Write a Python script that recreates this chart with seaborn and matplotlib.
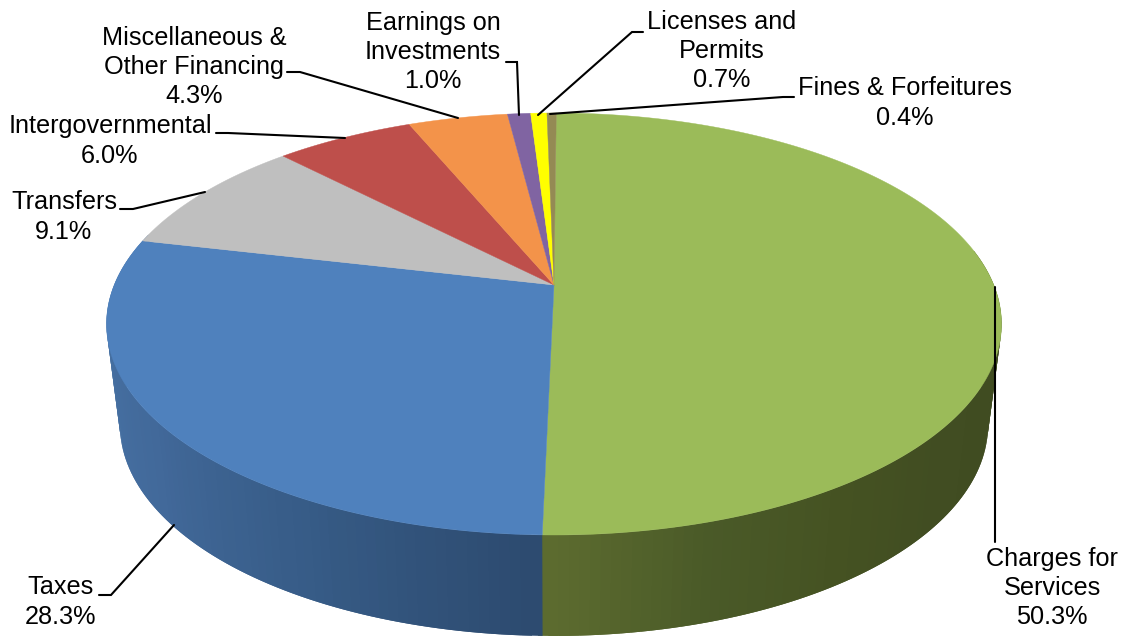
# -*- coding: UTF-8 -*-
import matplotlib
matplotlib.use('Agg')
import matplotlib.pyplot as plt
import numpy as np
import seaborn as sns

names = ['Charges for\nServices', 'Taxes', 'Transfers', 'Intergovernmental',
         'Miscellaneous &\nOther Financing', 'Earnings on\nInvestments',
         'Licenses and\nPermits', 'Fines & Forfeitures']
shares = [50.3, 28.3, 9.1, 6.0, 4.3, 1.0, 0.7, 0.4]
top_colors = ['#9bbb59', '#4f81bd', '#bfbfbf', '#be4f4b', '#f3934a', '#8064a2', '#ffff00', '#948a54']

sns.set_theme(style='white')
plt.rcParams['font.family'] = ['Liberation Sans', 'DejaVu Sans']

fig, ax = plt.subplots(figsize=(11.25, 6.37), dpi=100)
ax.set_position([0, 0, 1, 1])
ax.set_xlim(0, 1125)
ax.set_ylim(637, 0)
ax.axis('off')


# circle -> picture, the tilt moves the centre of the pie above the centre of the ellipse
def project(theta, r=1.0, cy=285.0, scale=1.0):
    u = r * np.sin(theta)
    v = r * np.cos(theta)
    w = 1 + 0.1848 * v
    return 554 + scale * 439.8 * u / w, cy - 203.8 * v / w


edges = np.r_[0, np.cumsum(shares)] / np.sum(shares) * 2 * np.pi + np.radians(0.35)


# side wall first, the top face covers what should be hidden
def wall(start, end, shade, backwards=False):
    steps = len(shade)
    t = np.linspace(start, end, steps + 1)
    order = range(steps - 1, -1, -1) if backwards else range(steps)
    for i in order:
        # every strip runs on under the next one so no seams show
        if backwards:
            tt = np.array([t[i], t[min(i + 2, steps)]])
        else:
            tt = np.array([t[max(i - 1, 0)], t[i + 1]])
        x1, y1 = project(tt)
        x2, y2 = project(tt[::-1], cy=386.0, scale=0.97)
        ax.fill(np.r_[x1, x2], np.r_[y1, y2], color=shade[i], lw=0, zorder=1)


# green runs a little past its edge, blue goes over it
wall(np.radians(80), edges[1] + np.radians(0.5),
     sns.blend_palette(['#3f4b21', '#3f4b21', '#404c21', '#414d22', '#455222', '#4a5a28', '#5c6b2f'], 90))
wall(edges[1], np.radians(285),
     sns.blend_palette(['#2d4b70', '#375c87', '#42699a', '#4671a3', '#4a76a9'], 90), backwards=True)

for i in range(len(shares)):
    t = np.linspace(edges[i], edges[i + 1], max(int(shares[i] * 8), 6))
    x, y = project(t)
    cx, cy = project(0.0, r=0.0)
    ax.fill(np.r_[cx, x], np.r_[cy, y], color=top_colors[i], lw=0.3, zorder=2)

# leader lines
leaders = [
    ([995, 995], [287, 542]),
    ([99, 111, 174], [595, 595, 525]),
    ([120, 133, 205], [209, 209, 192]),
    ([216, 228, 345], [133, 133, 138]),
    ([287, 300, 458], [72, 72, 118]),
    ([506, 517, 519], [62, 62, 115]),
    ([643, 632, 538], [32, 32, 115]),
    ([794, 783, 550], [97, 97, 114]),
]
for lx, ly in leaders:
    ax.plot(lx, ly, color='black', lw=1.5, zorder=3, solid_joinstyle='miter')

label_pos = [(1052, 588), (61, 602), (64, 217), (110, 141), (194, 67), (433, 52), (722, 51), (905, 103)]
for i in range(len(names)):
    ax.text(label_pos[i][0], label_pos[i][1], names[i] + '\n%.1f%%' % shares[i], ha='center', va='center',
            fontsize=18.2, color='black', linespacing=1.27, zorder=4)

fig.savefig('out.png', dpi=100)
